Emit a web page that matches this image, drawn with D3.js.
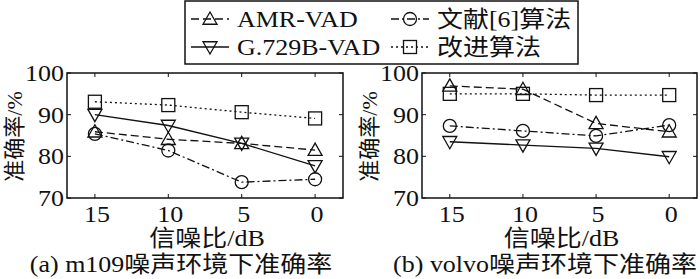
<!DOCTYPE html>
<html>
<head>
<meta charset="utf-8">
<script src="https://cdn.jsdelivr.net/npm/d3@7"></script>
<style>
    html, body { margin: 0; padding: 0; background: #fff; }
    svg { display: block; }
    text { font-family: "Liberation Serif", "Noto Sans CJK SC", serif; fill: #111; font-size: 23px; }
</style>
</head>
<body>
<div id="chart"></div>
<script>
// SNR levels (x categories) and y ticks
const snrLevels = ['15', '10', '5', '0'];
const yTicks = [70, 80, 90, 100];

// Accuracy (%) for m109 noise
const m109Amr = [85.9, 84.1, 83.1, 81.5];
const m109G729 = [90.0, 87.4, 83.1, 77.7];
const m109Ref6 = [85.4, 81.4, 73.8, 74.5];
const m109Ours = [93.1, 92.3, 90.6, 89.1];

// Accuracy (%) for volvo noise
const volvoAmr = [96.9, 96.1, 87.9, 85.9];
const volvoG729 = [83.5, 82.7, 81.9, 79.9];
const volvoRef6 = [87.3, 86.1, 84.9, 87.5];
const volvoOurs = [95.0, 95.0, 94.7, 94.7];

const seriesNames = ['AMR-VAD', 'G.729B-VAD', '文献[6]算法', '改进算法'];

// Line/marker style per series
const styles = {
    'AMR-VAD':    { dash: '8,4',      marker: 'up' },
    'G.729B-VAD': { dash: null,       marker: 'down' },
    '文献[6]算法': { dash: '8,3,2,3', marker: 'circle' },
    '改进算法':    { dash: '2,3',      marker: 'square' }
};

const W = 700, H = 279;
const SX = 1.13; // the source image is a bit stretched horizontally

const svg = d3.select('#chart').append('svg')
    .attr('width', W)
    .attr('height', H);

// text with horizontal stretch
const addText = (g, x, y, str, anchor = 'middle') => {
    return g.append('text')
        .attr('transform', `translate(${x},${y}) scale(${SX},1)`)
        .attr('text-anchor', anchor)
        .text(str);
};

// Draw a marker centred at (0,0)
const drawMarker = (g, type) => {
    const s = 7;
    if (type === 'circle') {
        g.append('circle').attr('r', 6.5);
    } else if (type === 'square') {
        g.append('rect').attr('x', -6.5).attr('y', -6.5).attr('width', 13).attr('height', 13);
    } else if (type === 'up') {
        g.append('path').attr('d', `M0,${-s}L${s},${s * 0.75}L${-s},${s * 0.75}Z`);
    } else {
        g.append('path').attr('d', `M0,${s}L${s},${-s * 0.75}L${-s},${-s * 0.75}Z`);
    }
    g.selectAll('*')
        .attr('fill', 'none')
        .attr('stroke', '#111')
        .attr('stroke-width', 1.3);
};

// One panel
const drawPanel = (box, data, caption, captionX) => {
    const x = d3.scalePoint().domain(snrLevels).range([box.left, box.right]).padding(0.38);
    const y = d3.scaleLinear().domain([70, 100]).range([box.bottom, box.top]);

    const g = svg.append('g');

    // lines
    seriesNames.forEach((name, i) => {
        const line = d3.line()
            .x((d, j) => x(snrLevels[j]))
            .y(d => y(d));
        g.append('path')
            .datum(data[i])
            .attr('d', line)
            .attr('fill', 'none')
            .attr('stroke', '#111')
            .attr('stroke-width', 1.3)
            .attr('stroke-dasharray', styles[name].dash);
    });

    // markers
    seriesNames.forEach((name, i) => {
        data[i].forEach((v, j) => {
            const m = g.append('g').attr('transform', `translate(${x(snrLevels[j])},${y(v)})`);
            drawMarker(m, styles[name].marker);
        });
    });

    // box
    g.append('rect')
        .attr('x', box.left).attr('y', box.top)
        .attr('width', box.right - box.left).attr('height', box.bottom - box.top)
        .attr('fill', 'none').attr('stroke', '#111').attr('stroke-width', 1.5);

    // inward ticks on all sides
    const tk = 4;
    snrLevels.forEach(s => {
        g.append('line').attr('x1', x(s)).attr('x2', x(s))
            .attr('y1', box.bottom).attr('y2', box.bottom - tk)
            .attr('stroke', '#111');
        g.append('line').attr('x1', x(s)).attr('x2', x(s))
            .attr('y1', box.top).attr('y2', box.top + tk)
            .attr('stroke', '#111');
    });
    yTicks.forEach(t => {
        g.append('line').attr('x1', box.left).attr('x2', box.left + tk)
            .attr('y1', y(t)).attr('y2', y(t)).attr('stroke', '#111');
        g.append('line').attr('x1', box.right).attr('x2', box.right - tk)
            .attr('y1', y(t)).attr('y2', y(t)).attr('stroke', '#111');
    });

    // tick labels
    yTicks.forEach(t => addText(g, box.left - 3, y(t) + 8, t, 'end'));
    snrLevels.forEach(s => addText(g, x(s) + 2, box.bottom + 24, s));

    // axis titles
    addText(g, (box.left + box.right) / 2 + 2, box.bottom + 48, '信噪比/dB');
    g.append('text')
        .attr('transform', `translate(${box.left - 45},${(box.top + box.bottom) / 2 + 1}) rotate(-90)`)
        .attr('text-anchor', 'middle')
        .style('font-size', '22px')
        .text('准确率/%');

    addText(g, captionX, box.bottom + 74, caption);
};

drawPanel({ left: 67, right: 343, top: 73, bottom: 198 },
    [m109Amr, m109G729, m109Ref6, m109Ours], '(a) m109噪声环境下准确率', 181);
drawPanel({ left: 422, right: 697, top: 73, bottom: 198 },
    [volvoAmr, volvoG729, volvoRef6, volvoOurs], '(b) volvo噪声环境下准确率', 545);

// legend
const legend = svg.append('g');
legend.append('rect')
    .attr('x', 185).attr('y', 1)
    .attr('width', 393).attr('height', 63)
    .attr('fill', '#fff').attr('stroke', '#111').attr('stroke-width', 1.5);

const legendPos = [[210, 19], [210, 47], [410, 19], [410, 47]];
seriesNames.forEach((name, i) => {
    const [cx, cy] = legendPos[i];
    const item = legend.append('g').attr('transform', `translate(${cx},${cy})`);
    item.append('line')
        .attr('x1', -19).attr('x2', 19)
        .attr('stroke', '#111').attr('stroke-width', 1.3)
        .attr('stroke-dasharray', styles[name].dash);
    drawMarker(item.append('g'), styles[name].marker);
    addText(item, 27, 8, name, 'start');
});
</script>
</body>
</html>
